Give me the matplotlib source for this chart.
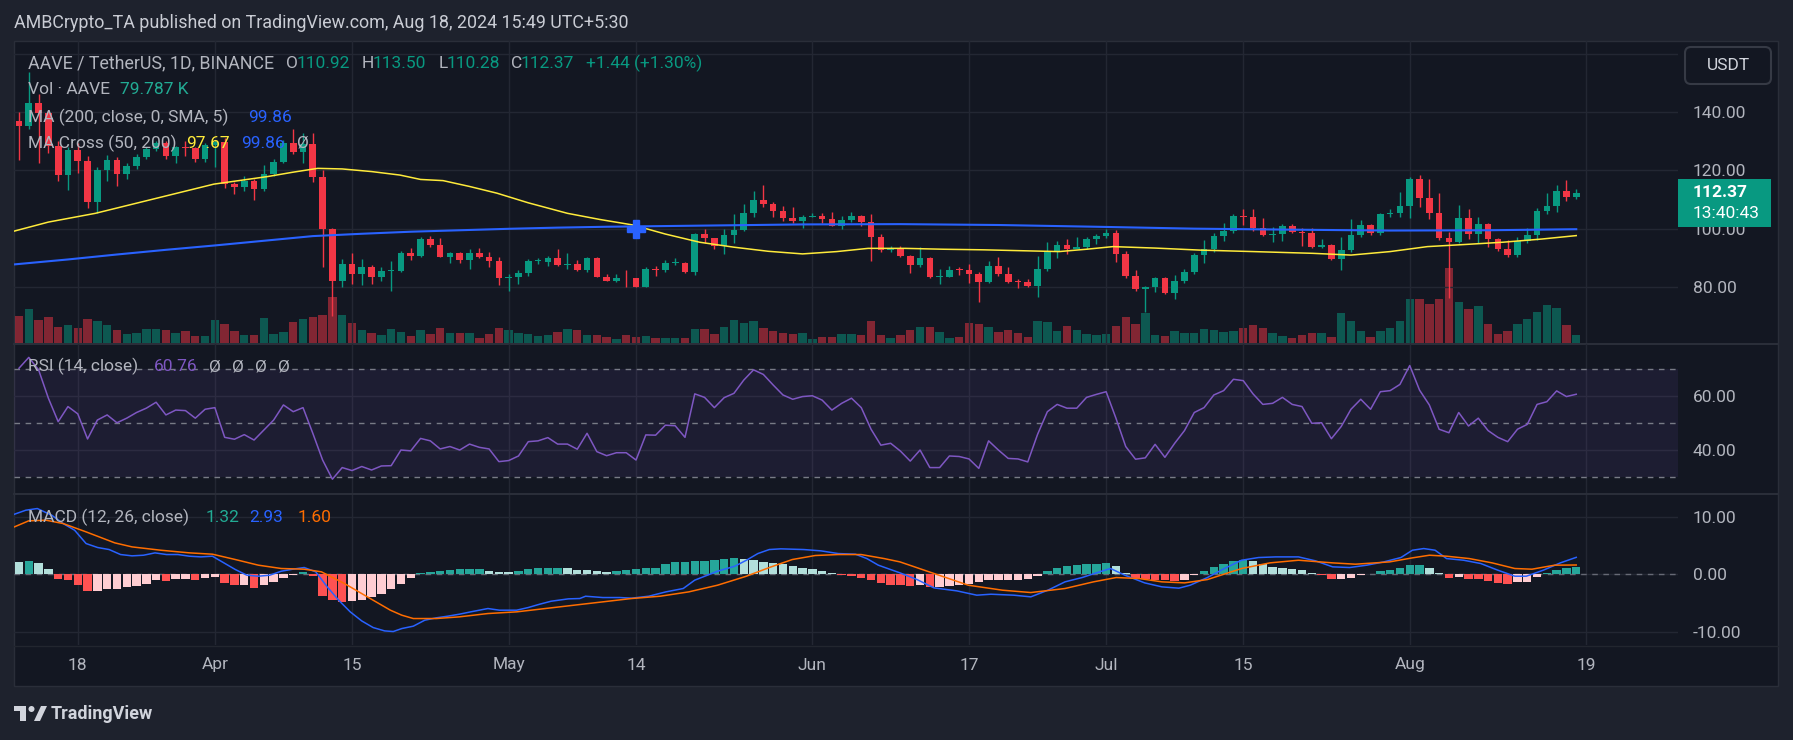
import matplotlib
matplotlib.use("Agg")
from matplotlib import pyplot as plt
from matplotlib.patches import Rectangle, FancyBboxPatch, Circle, Polygon

plt.rcParams['font.family'] = ['Roboto', 'DejaVu Sans']

# ---------------- data (AAVE/USDT daily, Mar 12 - Aug 18 2024) ----------------
opens = [136.9, 135.3, 143.2, 139.5, 128.5, 118.4, 127.0, 123.3, 109.3, 120.1,
         123.6, 118.8, 121.5, 124.7, 127.3, 129.3, 124.9, 128.1, 127.6, 123.9,
         128.7, 129.8, 115.3, 114.4, 116.5, 113.6, 118.8, 123.0, 129.5, 126.4,
         129.0, 117.6, 99.8, 82.1, 88.0, 84.5, 86.8, 83.6, 85.5, 85.7,
         91.6, 90.8, 96.4, 94.5, 90.5, 91.7, 89.3, 91.7, 90.2, 89.1,
         83.3, 83.6, 84.9, 89.0, 88.8, 89.9, 87.6, 87.9, 85.9, 89.9,
         83.6, 82.2, 83.2, 83.0, 80.2, 86.2, 86.0, 88.2, 88.3, 85.3,
         98.2, 96.8, 94.1, 97.9, 99.6, 105.3, 109.9, 108.5, 106.2, 103.8,
         102.8, 104.2, 104.4, 103.3, 101.1, 103.0, 104.4, 102.5, 97.3, 92.7,
         93.4, 90.7, 87.6, 89.9, 83.6, 83.6, 85.9, 85.8, 84.5, 81.9,
         87.3, 84.5, 81.9, 81.8, 80.5, 86.2, 92.2, 94.5, 93.1, 93.6,
         96.4, 97.5, 98.4, 91.4, 83.8, 79.5, 80.2, 83.1, 78.1, 82.1,
         85.2, 91.0, 93.0, 97.5, 99.4, 104.4, 104.2, 100.4, 97.9, 98.3,
         101.1, 99.0, 98.5, 93.9, 94.4, 89.7, 92.7, 97.9, 101.3, 98.5,
         105.1, 105.3, 107.8, 117.1, 110.4, 105.5, 97.0, 95.6, 103.7, 98.2,
         101.6, 96.4, 93.1, 91.0, 95.8, 97.9, 106.1, 107.8, 112.9, 110.92]
highs = [140.0, 153.8, 146.0, 140.5, 130.0, 128.0, 129.3, 124.9, 121.0, 125.3,
         124.5, 122.4, 125.5, 128.0, 130.0, 130.0, 128.5, 130.0, 128.0, 129.5,
         130.5, 131.0, 116.0, 118.0, 117.0, 121.8, 124.0, 130.4, 134.1, 132.7,
         132.7, 120.1, 100.3, 89.7, 91.6, 89.7, 87.6, 86.8, 89.0, 92.4,
         93.3, 97.3, 97.5, 96.9, 92.2, 91.9, 93.0, 93.4, 92.1, 90.2,
         84.4, 85.9, 89.5, 89.9, 90.7, 93.1, 91.6, 89.3, 90.5, 90.5,
         84.5, 84.5, 85.9, 83.2, 87.0, 87.3, 89.3, 89.9, 88.8, 98.5,
         99.8, 97.0, 99.9, 105.1, 108.5, 112.9, 115.0, 109.3, 107.8, 107.6,
         104.7, 105.3, 105.3, 105.6, 104.4, 105.8, 104.7, 105.1, 98.2, 94.2,
         94.1, 91.0, 93.6, 90.2, 86.2, 87.3, 86.8, 87.9, 85.2, 89.0,
         90.5, 86.8, 82.8, 82.8, 90.7, 95.6, 95.8, 96.5, 97.3, 97.3,
         98.2, 99.9, 99.6, 92.5, 85.9, 80.4, 83.6, 83.6, 84.2, 86.1,
         91.6, 96.2, 98.4, 101.9, 105.1, 106.8, 106.8, 103.8, 100.5, 101.5,
         101.6, 100.2, 100.2, 96.4, 94.8, 97.3, 103.2, 103.0, 101.6, 105.5,
         106.7, 112.5, 117.6, 118.4, 117.1, 112.1, 99.0, 108.2, 106.8, 104.2,
         102.0, 97.0, 96.2, 97.3, 100.2, 107.0, 112.2, 115.0, 116.7, 113.50]
lows = [123.6, 134.2, 122.5, 126.0, 116.5, 113.3, 119.2, 107.2, 105.3, 116.5,
        114.7, 117.0, 120.5, 124.0, 126.5, 124.0, 122.7, 125.0, 123.0, 123.0,
        121.3, 114.0, 112.0, 113.0, 109.9, 113.0, 118.0, 122.5, 125.5, 122.4,
        115.9, 87.0, 70.3, 80.0, 81.1, 80.8, 81.1, 82.2, 78.8, 85.1,
        89.3, 90.5, 93.9, 90.2, 88.2, 88.4, 86.2, 89.9, 87.0, 80.8,
        78.8, 81.1, 83.8, 87.9, 87.3, 87.4, 86.2, 85.7, 85.3, 83.4,
        82.1, 81.9, 80.2, 80.0, 80.0, 83.8, 85.3, 87.6, 84.8, 84.2,
        95.2, 93.0, 91.4, 95.0, 99.4, 103.9, 107.4, 103.9, 102.8, 101.9,
        100.4, 104.1, 101.9, 100.9, 99.9, 102.5, 101.1, 89.1, 92.2, 92.2,
        90.5, 85.0, 87.0, 83.3, 81.0, 83.4, 84.2, 81.6, 75.1, 81.3,
        84.0, 81.5, 79.8, 79.9, 76.8, 85.5, 90.1, 91.2, 93.3, 93.0,
        94.8, 96.7, 88.7, 83.3, 78.8, 71.6, 78.5, 77.8, 75.8, 81.5,
        84.5, 88.4, 92.2, 95.9, 98.5, 101.3, 99.4, 97.5, 95.6, 95.9,
        98.5, 94.2, 93.5, 93.3, 89.3, 85.9, 92.2, 97.3, 97.9, 98.0,
        104.2, 103.9, 103.8, 107.3, 103.2, 96.0, 76.2, 95.0, 96.4, 95.3,
        93.9, 92.5, 90.5, 90.5, 95.3, 96.2, 105.1, 105.9, 109.6, 110.28]
closes = [135.3, 143.2, 139.5, 128.5, 118.4, 127.0, 123.3, 109.3, 120.1, 123.6,
          118.8, 121.5, 124.7, 127.3, 129.3, 124.9, 128.1, 127.6, 123.9, 128.7,
          129.8, 115.3, 114.4, 116.5, 113.6, 118.8, 123.0, 129.5, 126.4, 129.0,
          117.6, 99.8, 82.1, 88.0, 84.5, 86.8, 83.6, 85.5, 85.7, 91.6,
          90.8, 96.4, 94.5, 90.5, 91.7, 89.3, 91.7, 90.2, 89.1, 83.3,
          83.6, 84.9, 89.0, 89.2, 89.9, 87.6, 87.9, 85.9, 89.9, 83.6,
          82.2, 83.2, 83.0, 80.2, 86.2, 86.0, 88.2, 88.3, 85.3, 98.2,
          96.8, 94.1, 97.9, 99.6, 105.3, 109.9, 108.5, 106.2, 103.8, 102.8,
          104.2, 104.4, 103.3, 101.1, 103.0, 104.4, 102.5, 97.3, 92.7, 93.4,
          90.7, 87.6, 89.9, 83.6, 83.6, 85.9, 85.8, 84.5, 81.9, 87.3,
          84.5, 81.9, 81.8, 80.5, 86.2, 92.2, 94.5, 93.1, 93.6, 96.4,
          97.5, 98.4, 91.4, 83.8, 79.5, 80.2, 83.1, 78.1, 82.1, 85.2,
          91.0, 93.0, 97.5, 99.4, 104.4, 104.2, 100.4, 97.9, 98.3, 101.1,
          99.0, 98.5, 93.9, 94.4, 89.7, 92.7, 97.9, 101.3, 98.5, 105.1,
          105.3, 107.8, 117.1, 110.4, 105.5, 97.0, 95.6, 103.7, 98.2, 101.6,
          96.4, 93.1, 91.0, 95.8, 97.9, 106.1, 107.8, 112.9, 110.92, 112.37]

# volume in thousands of AAVE
volumes = [269, 335, 229, 259, 159, 179, 149, 239, 219, 179,
           129, 93, 103, 136, 139, 129, 100, 120, 70, 70,
           229, 189, 120, 80, 80, 249, 90, 110, 209, 242,
           262, 279, 452, 282, 199, 129, 100, 80, 139, 110,
           70, 129, 90, 149, 100, 100, 100, 50, 90, 149,
           129, 100, 90, 70, 80, 110, 139, 129, 80, 80,
           60, 40, 80, 60, 70, 50, 50, 50, 50, 139,
           139, 90, 159, 229, 199, 219, 149, 120, 100, 90,
           100, 40, 60, 60, 90, 90, 80, 219, 80, 50,
           80, 129, 159, 159, 110, 50, 60, 199, 189, 159,
           110, 129, 100, 60, 219, 209, 120, 169, 129, 90,
           80, 90, 169, 259, 189, 299, 80, 70, 120, 100,
           100, 139, 129, 110, 120, 149, 179, 149, 100, 70,
           50, 80, 100, 100, 60, 299, 219, 120, 60, 120,
           149, 222, 438, 438, 388, 438, 744, 408, 339, 369,
           189, 90, 120, 189, 239, 309, 378, 349, 179, 79.787]

# moving averages, sampled along the curves (candle index, value)
ma200_idx = [-0.5, 5, 10, 15, 20, 25, 30, 35, 40, 45, 50, 55, 60, 65, 70, 80, 90, 100, 110,
             120, 130, 140, 150, 159]
ma200_val = [87.8, 89.5, 91.2, 92.8, 94.3, 95.9, 97.5, 98.3, 99.0, 99.5, 100.0, 100.4, 100.7,
             100.9, 101.1, 101.5, 101.6, 101.3, 100.7, 100.05, 99.7, 99.4, 99.5, 99.86]
ma50_idx = [-0.5, 3, 7.8, 13, 19.9, 25.4, 28, 30.5, 33, 36, 38.9, 41.0, 43.3, 46, 48.8, 52,
            56.0, 59.3, 62.7, 66, 69.5, 73.0, 76.5, 80.0, 83.5, 86.7, 90.5, 94.4, 98.5,
            102.3, 106.2, 109, 111.7, 116, 120.6, 126, 132.1, 136, 140, 143.8, 147.5,
            151.5, 155.5, 159]
ma50_val = [99.2, 102.3, 105.3, 109.6, 115.3, 117.9, 119.4, 120.7, 120.5, 119.6, 118.4, 116.9,
            116.5, 114.5, 112.2, 108.9, 105.3, 103.2, 101.3, 98.2, 95.4, 93.7, 92.3, 91.4,
            92.2, 93.3, 93.3, 93.0, 92.8, 92.5, 92.2, 93.0, 93.9, 93.4, 92.7, 92.2, 91.6,
            91.0, 92.2, 93.9, 94.6, 95.4, 96.5, 97.67]
cross_idx = 63
cross_val = 100.0

rsi = [70.4, 74.4, 69.8, 59.3, 50.6, 56.2, 53.5, 44.2, 51.2, 53.1,
       50.2, 51.9, 54.0, 55.6, 57.8, 53.1, 54.9, 54.7, 51.9, 55.2,
       55.8, 44.8, 44.1, 45.8, 43.8, 47.5, 51.2, 56.8, 54.3, 55.8,
       46.3, 36.4, 29.3, 33.6, 32.5, 34.0, 32.7, 34.2, 34.3, 40.1,
       39.8, 44.4, 43.5, 40.5, 41.4, 40.1, 42.3, 41.1, 40.5, 35.8,
       36.2, 37.9, 43.2, 43.5, 44.7, 42.3, 42.3, 40.4, 46.3, 39.5,
       38.0, 39.1, 39.1, 36.4, 45.7, 45.6, 49.3, 49.1, 44.8, 60.9,
       59.6, 55.8, 59.5, 61.1, 66.0, 69.8, 68.1, 64.2, 60.5, 58.9,
       59.9, 60.2, 58.6, 54.9, 57.4, 59.3, 55.8, 47.8, 41.9, 42.6,
       39.7, 36.0, 40.1, 33.6, 33.6, 37.9, 37.7, 36.8, 33.3, 43.5,
       40.1, 37.0, 36.8, 35.7, 45.9, 54.3, 57.0, 55.6, 55.6, 59.6,
       60.7, 61.7, 51.9, 41.4, 36.7, 37.2, 42.2, 37.4, 42.6, 47.3,
       54.0, 55.8, 60.5, 62.1, 66.3, 65.8, 60.9, 57.0, 57.4, 59.6,
       57.0, 56.2, 50.0, 50.2, 44.3, 48.8, 55.2, 58.9, 55.2, 61.7,
       62.1, 64.4, 71.4, 62.3, 56.8, 47.8, 46.5, 54.0, 49.0, 51.9,
       47.3, 44.8, 43.2, 47.8, 49.6, 57.0, 58.0, 62.0, 59.9, 60.76]

macd_idx = [-0.47, 0.7, 1.87, 3.34, 4.51, 5.68, 6.85, 8.03, 9.2, 10.37, 11.54, 12.71, 13.89,
            15.06, 16.23, 17.4, 18.57, 19.75, 20.92, 22.09, 23.26, 24.44, 25.61, 26.78,
            27.95, 29.12, 30.3, 31.47, 32.64, 33.82, 34.99, 36.16, 37.33, 38.21, 39.09,
            40.26, 41.43, 42.6, 43.78, 44.95, 46.12, 47.88, 49.05, 50.81, 51.99, 53.16,
            54.33, 56.09, 57.26, 57.85, 59.61, 61.37, 62.54, 64.3, 66.06, 67.82, 68.99,
            71.33, 73.09, 74.27, 75.44, 76.61, 77.78, 80.12, 81.88, 83.64, 85.4, 86.57,
            87.74, 89.95, 91.69, 93.43, 95.76, 97.79, 99.24, 101.57, 103.31, 105.06,
            106.8, 108.55, 110.0, 111.45, 112.91, 114.94, 116.69, 118.43, 119.59, 121.34,
            123.08, 124.83, 126.57, 128.31, 130.64, 132.38, 134.13, 135.87, 137.62,
            139.36, 141.1, 142.27, 143.43, 144.59, 145.76, 147.5, 149.24, 150.99, 152.73,
            153.9, 155.64, 157.38, 159]
macd_val = [10.43, 11.13, 11.42, 10.26, 8.81, 7.65, 5.33, 4.64, 4.29, 3.42, 3.19, 3.3, 3.71,
            3.42, 3.42, 3.13, 3.01, 3.13, 1.97, 0.81, -0.17, -0.35, -0.17, 0.52, 0.87, 1.16,
            0.41, -2.2, -4.52, -6.55, -8.12, -9.28, -9.86, -9.97, -9.45, -9.04, -8.0,
            -7.59, -7.3, -6.96, -6.55, -5.97, -6.26, -6.26, -5.8, -5.22, -4.7, -4.29,
            -4.23, -3.83, -4.06, -4.06, -4.17, -3.83, -3.07, -2.49, -1.04, 0.52, 1.39,
            2.43, 3.59, 4.29, 4.41, 4.29, 4.06, 3.59, 3.48, 2.72, 1.57, 0.23, -0.93,
            -2.38, -2.9, -3.65, -3.48, -3.65, -3.94, -2.78, -1.33, -0.58, 0.23, 0.99,
            -0.17, -1.51, -2.2, -2.43, -1.91, -0.58, 0.99, 2.43, 2.9, 3.01, 3.01, 2.32,
            1.28, 1.16, 1.57, 2.14, 2.9, 4.17, 4.46, 4.17, 2.72, 2.43, 1.86, 0.7, -0.35,
            -0.35, 0.7, 1.97, 2.93]
signal_idx = [-0.47, 0.99, 2.75, 4.51, 6.85, 9.78, 11.54, 14.47, 17.4, 19.75, 22.09, 24.44,
              26.78, 29.12, 30.88, 33.23, 35.57, 37.92, 39.09, 40.26, 42.6, 44.95, 47.88,
              50.81, 53.74, 56.67, 59.61, 62.54, 65.47, 68.4, 71.33, 74.27, 76.61, 78.95,
              81.3, 83.64, 85.98, 88.33, 89.95, 93.43, 96.92, 100.41, 103.31, 106.8,
              109.71, 112.03, 114.36, 116.69, 119.01, 121.34, 124.83, 127.73, 130.64,
              134.13, 136.45, 139.94, 142.27, 144.01, 145.76, 148.08, 150.41, 152.73,
              154.48, 156.8, 159]
signal_val = [8.23, 9.28, 9.39, 8.81, 7.36, 5.45, 4.75, 4.17, 3.71, 3.48, 2.55, 1.57, 0.99,
              0.87, 0.41, -1.62, -3.94, -6.26, -7.13, -7.71, -7.71, -7.42, -6.84, -6.55,
              -5.97, -5.39, -4.81, -4.23, -3.83, -3.07, -1.91, -0.35, 1.16, 2.55, 3.25,
              3.42, 3.42, 2.72, 2.14, 0.12, -1.91, -2.78, -3.19, -2.49, -1.33, -0.58,
              -0.75, -1.33, -1.51, -0.93, 0.99, 1.97, 2.43, 1.97, 1.74, 2.14, 2.84, 3.3,
              3.13, 2.72, 1.97, 0.99, 0.87, 1.57, 1.6]
hist = [2.14, 2.26, 1.97, 0.87, -0.75, -1.04, -1.91, -2.9, -2.9, -2.61,
        -2.61, -2.2, -2.09, -1.62, -1.04, -1.16, -0.75, -0.75, -0.93, -0.58,
        -0.46, -1.51, -1.91, -1.91, -2.32, -1.91, -1.33, -0.58, -0.17, 0.41,
        -0.23, -3.83, -4.41, -4.81, -4.7, -4.52, -3.94, -3.36, -2.49, -1.62,
        -0.64, 0.23, 0.46, 0.58, 0.7, 0.87, 0.87, 0.87, 0.52, 0.41,
        0.35, 0.64, 0.87, 1.04, 1.16, 1.16, 1.04, 0.81, 0.7, 0.52,
        0.35, 0.58, 0.81, 0.99, 1.04, 1.1, 1.74, 2.14, 2.2, 2.26,
        2.32, 2.43, 2.72, 2.78, 2.72, 2.43, 2.2, 2.0, 1.75, 1.45,
        1.15, 0.85, 0.55, 0.25, -0.06, -0.35, -0.64, -1.04, -1.45, -1.8,
        -1.91, -2.09, -1.91, -2.2, -2.2, -2.09, -1.91, -1.62, -1.33, -1.04,
        -0.93, -0.93, -0.93, -0.75, -0.35, 0.52, 1.16, 1.39, 1.57, 1.74,
        1.86, 1.97, 1.39, 0.23, -0.58, -0.75, -0.93, -1.04, -1.16, -0.93,
        -0.17, 0.52, 1.28, 1.86, 2.32, 2.55, 2.32, 1.74, 1.28, 1.16,
        0.99, 0.7, 0.23, -0.17, -0.75, -0.75, -0.58, -0.17, 0.03, 0.52,
        0.7, 1.16, 1.57, 1.57, 1.16, 0.23, -0.58, -0.46, -0.75, -0.87,
        -1.16, -1.51, -1.62, -1.33, -1.33, -0.46, 0.23, 0.7, 1.16, 1.32]

tick_idx = [6, 20, 34, 50, 63, 81, 97, 111, 125, 142, 160]
tick_lbl = ['18', 'Apr', '15', 'May', '14', 'Jun', '17', 'Jul', '15', 'Aug', '19']

# ---------------- layout (pixel based, origin top-left) ----------------
W, H = 1793, 740
BG_OUT = '#1e222d'
BG = '#131722'
GRID = '#232733'
TXT = '#b2b5be'
UP, DOWN = '#089981', '#f23645'
XL = (-0.51, 169.39)
FS = 12.5  # text size used by the chart


def box(x0, y0, x1, y1):
    return [x0 / W, 1 - y1 / H, (x1 - x0) / W, (y1 - y0) / H]


def price_at(y):
    return 140 - (y - 112) / 2.92


def rsi_at(y):
    return 70 - (y - 369.3) / 2.7


def macd_at(y):
    return (574.2 - y) / 5.75


fig = plt.figure(figsize=(W / 100, H / 100), dpi=100)
fig.patch.set_facecolor(BG_OUT)

bg = fig.add_axes([0, 0, 1, 1], zorder=0)
bg.set_xlim(0, W)
bg.set_ylim(H, 0)
bg.axis('off')
bg.add_patch(Rectangle((14, 41), 1764, 645, fc=BG, ec='#2a2e39', lw=1))
for yy in (343.5, 494):
    bg.plot([14, 1778], [yy, yy], color='#2a2e39', lw=1.5)
bg.plot([14, 1778], [645.5, 645.5], color='#22262f', lw=1)


def style(a, ylim, yticks, labels=None):
    a.set_facecolor('none')
    a.set_xlim(*XL)
    a.set_ylim(*ylim)
    for s in a.spines.values():
        s.set_visible(False)
    a.yaxis.tick_right()
    a.set_yticks(yticks)
    a.set_yticklabels(labels if labels is not None else ['{:.2f}'.format(v) for v in yticks])
    a.set_xticks(tick_idx)
    a.tick_params(axis='both', length=0, colors=TXT, labelsize=FS, pad=10.8)
    a.tick_params(axis='x', labelbottom=False)
    a.grid(True, color=GRID, lw=1)
    a.set_axisbelow(True)


# volume axes (under the candles)
vax = fig.add_axes(box(14, 41, 1678, 343), zorder=1)
vax.set_facecolor('none')
vax.set_xlim(*XL)
vax.set_ylim(0, 3000)
vax.axis('off')
idx = list(range(len(closes)))
up = [c >= o for o, c in zip(opens, closes)]
vcol = [UP if u else DOWN for u in up]
vax.bar(idx, volumes, width=0.86, color=vcol, alpha=0.5, linewidth=0)

# price pane (160 line is hidden behind the currency box, so no label there)
ax = fig.add_axes(box(14, 41, 1678, 343), zorder=2)
style(ax, (price_at(343), price_at(41)), [80, 100, 120, 140, 160],
      ['80.00', '100.00', '120.00', '140.00', ''])
bodies = [max(abs(c - o), 0.3) for o, c in zip(opens, closes)]
bottoms = [min(o, c) for o, c in zip(opens, closes)]
ax.vlines(idx, lows, highs, colors=vcol, lw=1, zorder=3)
ax.bar(idx, bodies, bottom=bottoms, width=0.68, color=vcol, linewidth=0, zorder=3)
ax.plot(ma50_idx, ma50_val, color='#ffeb3b', lw=1.1, zorder=4)
ax.plot(ma200_idx, ma200_val, color='#2962ff', lw=1.5, zorder=4)
ax.plot(cross_idx, cross_val, marker='P', ms=13, color='#2962ff', mec='#2962ff', zorder=5)

# RSI pane
rax = fig.add_axes(box(14, 344, 1678, 493), zorder=2)
style(rax, (rsi_at(493), rsi_at(344)), [40, 60])
rax.axhspan(30, 70, color='#7e57c2', alpha=0.1, lw=0)
for lv in (70, 50, 30):
    rax.axhline(lv, color='#787b86', lw=1, ls=(0, (4, 4)))
rax.plot(idx, rsi, color='#7e57c2', lw=1.1)

# MACD pane
max_ = fig.add_axes(box(14, 495, 1678, 645), zorder=2)
style(max_, (macd_at(645), macd_at(495)), [-10, 0, 10])
max_.tick_params(axis='x', labelbottom=True, pad=9)
max_.set_xticklabels(tick_lbl)
max_.axhline(0, color='#787b86', lw=1, ls=(0, (4, 4)), alpha=0.8)
hcol = []
for i, h in enumerate(hist):
    p = hist[i - 1] if i > 0 else h + 1
    if h >= 0:
        hcol.append('#26a69a' if h >= p else '#b2dfdb')
    else:
        hcol.append('#ffcdd2' if h >= p else '#ff5252')
max_.bar(idx, hist, width=0.86, color=hcol, linewidth=0, zorder=2)
max_.plot(macd_idx, macd_val, color='#2962ff', lw=1.1, zorder=3)
max_.plot(signal_idx, signal_val, color='#ff6d00', lw=1.1, zorder=3)

# ---------------- overlay texts ----------------
ov = fig.add_axes([0, 0, 1, 1], zorder=10)
ov.set_xlim(0, W)
ov.set_ylim(H, 0)
ov.axis('off')


def t(x, y, s, c=TXT, size=FS, **kw):
    ov.text(x, y, s, color=c, fontsize=size, va='center', ha=kw.pop('ha', 'left'), **kw)


t(14, 23, 'AMBCrypto_TA published on TradingView.com, Aug 18, 2024 15:49 UTC+5:30', '#c9ccd4', 12.9)

t(28, 63, 'AAVE / TetherUS, 1D, BINANCE', size=12.9)
t(286, 63, 'O')
t(297, 63, '110.92', UP)
t(362, 63, 'H')
t(373, 63, '113.50', UP)
t(438.6, 63, 'L')
t(447, 63, '110.28', UP)
t(511, 63, 'C')
t(521, 63, '112.37', UP)
t(586, 63, '+1.44 (+1.30%)', UP)
t(28, 90, 'Vol · AAVE')
t(119.6, 90, '79.787 K', '#22ab94')
t(28, 117, 'MA (200, close, 0, SMA, 5)')
t(247.8, 117, '99.86', '#2962ff')
t(28, 143, 'MA Cross (50, 200)')
t(186.5, 143, '97.67', '#ffeb3b')
t(241.6, 143, '99.86', '#2962ff')
t(297.5, 143, 'Ø')

t(27.6, 366.7, 'RSI (14, close)')
t(153.8, 366.7, '60.76', '#7e57c2')
for xx in (209.5, 232, 255, 278):
    t(xx, 366.7, 'Ø')

t(27.6, 517.3, 'MACD (12, 26, close)')
t(205.5, 517.3, '1.32', '#22ab94')
t(249.7, 517.3, '2.93', '#2962ff')
t(297.3, 517.3, '1.60', '#ff6d00')

# last price tag and currency box
ov.add_patch(Rectangle((1678, 179), 93, 48, fc=UP, ec='none'))
t(1693, 192.5, '112.37', 'white', fontweight='bold')
t(1693, 213.5, '13:40:43', 'white')
ov.add_patch(FancyBboxPatch((1685, 47), 86, 37, boxstyle='round,pad=0,rounding_size=6',
                            fc=BG, ec='#363a45', lw=1.5))
t(1728, 66, 'USDT', '#d1d4dc', ha='center')

# footer logo
LOGO = '#d1d4dc'
ov.add_patch(Rectangle((14, 706), 12, 5, fc=LOGO, ec='none'))
ov.add_patch(Rectangle((20, 706), 6, 15, fc=LOGO, ec='none'))
ov.add_patch(Circle((31.5, 709), 3, fc=LOGO, ec='none'))
ov.add_patch(Polygon([(34, 721), (41, 706), (47, 706), (40, 721)], closed=True, fc=LOGO, ec='none'))
t(51, 714, 'TradingView', LOGO, 13, fontweight='bold')

fig.savefig('out.png', dpi=100, facecolor=fig.get_facecolor())
